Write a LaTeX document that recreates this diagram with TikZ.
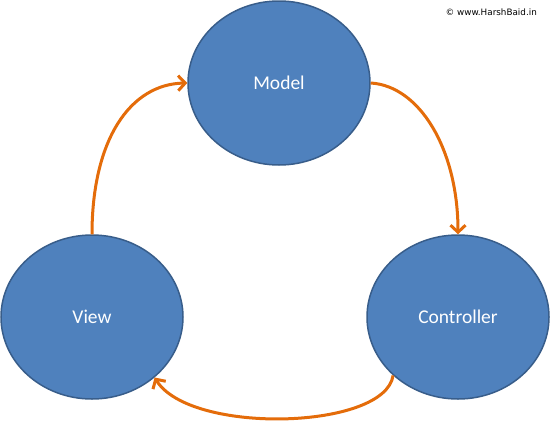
\documentclass[tikz,border=0pt]{standalone}
\usepackage{fontspec}
\setmainfont{Carlito}
\newfontfamily\wmfont{DejaVu Sans}
\usetikzlibrary{arrows.meta,shapes.geometric}
\definecolor{blobfill}{HTML}{4F81BD}
\definecolor{blobedge}{HTML}{385D8A}
\definecolor{flow}{HTML}{E46C0A}
\tikzset{
  blob/.style={ellipse, draw=blobedge, line width=1.5pt, fill=blobfill,
    minimum width=182pt, minimum height=164pt, inner sep=0pt,
    text=white, font=\fontsize{19.5}{22}\selectfont},
  flowarrow/.style={draw=flow, line width=3pt,
    -{Straight Barb[length=7pt, width=15pt, line width=3pt]}},
}
\begin{document}
\begin{tikzpicture}[x=1pt, y=-1pt]
\useasboundingbox (0,0) rectangle (551,426);
\node[blob] (model) at (279,83) {Model};
\node[blob] (view) at (92,317) {View};
\node[blob] (ctrl) at (458,317) {Controller};
\node[anchor=east, font=\wmfont\fontsize{8.8}{10}\selectfont, inner sep=0pt] (wm) at (537,12) {© www.HarshBaid.in};
\draw[flowarrow] (view.north) .. controls (92,140) and (130,84) .. (model.west);
\draw[flowarrow] (model.east) .. controls (420,86) and (458,150) .. (ctrl.north);
\draw[flowarrow] (ctrl.-138) .. controls (385,430) and (190,435) .. (view.-44);
\end{tikzpicture}
\end{document}
